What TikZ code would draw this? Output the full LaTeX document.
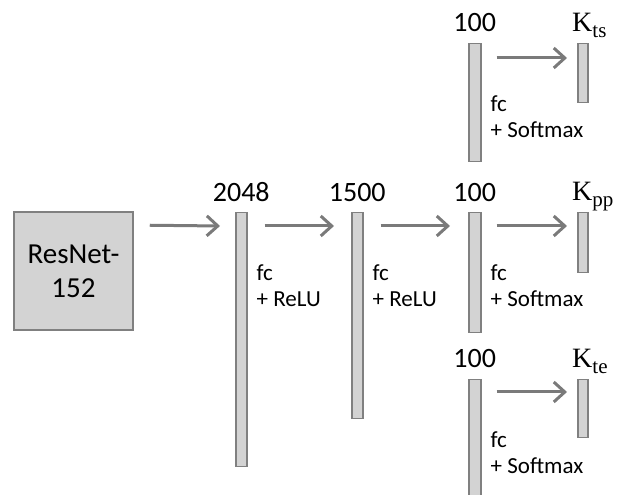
\documentclass[tikz,border=0pt]{standalone}
\usepackage[no-math]{fontspec}
\setmainfont{Carlito}
\newfontfamily\kfont{Liberation Serif}
\usetikzlibrary{arrows.meta,calc}
\definecolor{barfill}{HTML}{D3D3D3}
\definecolor{bardraw}{HTML}{808080}
\definecolor{arrcol}{HTML}{7A7A7A}
\tikzset{
  bar/.style={draw=bardraw, fill=barfill, line width=1.5pt, inner sep=0pt, anchor=north west},
  arr/.style={draw=arrcol, line width=3pt, -{Straight Barb[length=11pt,width=20pt,line width=3pt]}},
  numlbl/.style={font=\fontsize{28}{30}\selectfont, anchor=base, inner sep=0pt},
  klbl/.style={font=\kfont\fontsize{28}{30}\selectfont, anchor=base west, inner sep=0pt},
  fclbl/.style={font=\fontsize{23}{26}\selectfont, anchor=north west, align=left, inner sep=0pt},
}
\newcommand{\mybar}[5]{\node[bar, minimum width=#3pt, minimum height=#4pt] (#5) at (#1,#2) {};}
\newcommand{\ksub}[1]{K\raisebox{-6pt}{\fontsize{21}{21}\selectfont #1}}
\begin{document}
\begin{tikzpicture}[x=1pt,y=1pt]
\useasboundingbox (0,0) rectangle (622,495);
\clip (0,0) rectangle (622,495);
% ResNet box
\node[draw=bardraw, fill=barfill, line width=1.5pt, minimum width=119pt, minimum height=118pt, inner sep=0pt,
      align=center, font=\fontsize{29}{34}\selectfont] (res) at (73.5,224) {ResNet-\\152};
% bars
\mybar{235}{283}{11}{254}{b1}
\mybar{351}{283}{11}{206}{b2}
\mybar{468}{283}{12}{120}{bm}
\mybar{577}{283}{10}{60}{kpp}
\mybar{468}{452}{12}{118}{bt}
\mybar{577}{452}{10}{59}{kts}
\mybar{468}{116}{12}{125}{bb}
\mybar{577}{116}{10}{58}{kte}
% number labels
\node[numlbl] (l1) at ($(b1.north)+(0,10)$) {2048};
\node[numlbl] (l2) at ($(b2.north)+(0,10)$) {1500};
\node[numlbl] (l3) at ($(bm.north)+(0,10)$) {100};
\node[numlbl] (l4) at ($(bt.north)+(0,11)$) {100};
\node[numlbl] (l5) at ($(bb.north)+(0,11)$) {100};
\node[klbl] (k1) at ($(kts.north west)+(-5,11)$) {\ksub{ts}};
\node[klbl] (k2) at ($(kpp.north west)+(-5,11)$) {\ksub{pp}};
\node[klbl] (k3) at ($(kte.north west)+(-5,11)$) {\ksub{te}};
% fc labels
\node[fclbl] (f1) at ($(b1.north east)+(9,-53)$) {fc\\+ ReLU};
\node[fclbl] (f2) at ($(b2.north east)+(9,-53)$) {fc\\+ ReLU};
\node[fclbl] (f3) at ($(bm.north east)+(9,-53)$) {fc\\+ Softmax};
\node[fclbl] (f4) at ($(bt.north east)+(9,-53)$) {fc\\+ Softmax};
\node[fclbl] (f5) at ($(bb.north east)+(9,-53)$) {fc\\+ Softmax};
% arrows
\draw[arr] ($(res.north east)+(16,-14)$) -- ($(b1.north west)+(-15,-14)$);
\draw[arr] ($(b1.north east)+(17,-14)$) -- ($(b2.north west)+(-17,-14)$);
\draw[arr] ($(b2.north east)+(17,-14)$) -- ($(bm.north west)+(-18,-14)$);
\draw[arr] ($(bm.north east)+(15,-14)$) -- ($(kpp.north west)+(-10,-14)$);
\draw[arr] ($(bt.north east)+(15,-15)$) -- ($(kts.north west)+(-10,-15)$);
\draw[arr] ($(bb.north east)+(15,-13)$) -- ($(kte.north west)+(-10,-13)$);
\end{tikzpicture}
\end{document}
